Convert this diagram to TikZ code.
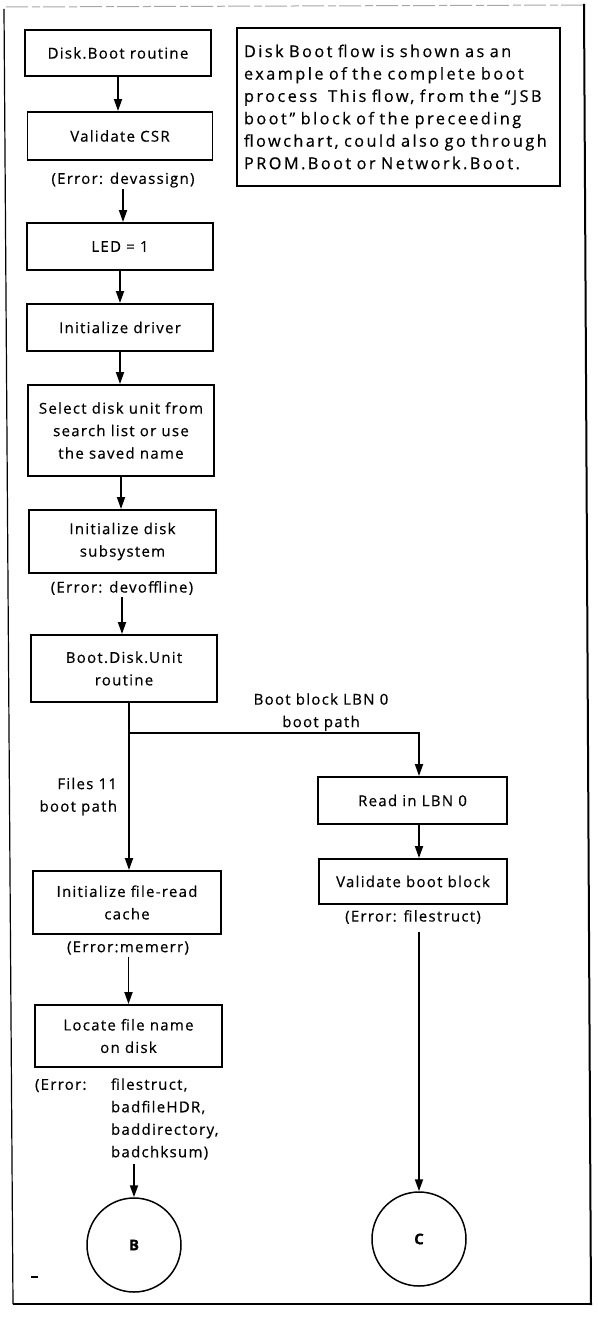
\documentclass[tikz,border=0pt]{standalone}
\usepackage{fontspec}
\setmainfont{Open Sans}[LetterSpace=8.5, FakeBold=0.5]
\newfontfamily\notefont{Open Sans}[LetterSpace=15, FakeBold=0.5]
\usetikzlibrary{arrows.meta}

\begin{document}
\begin{tikzpicture}[x=1pt,y=-1pt,
  every node/.style={font=\fontsize{15}{22.5}\selectfont},
  box/.style={draw, line width=1.9pt, align=center, inner sep=0pt},
  lbl/.style={inner sep=0pt, outer sep=2pt, align=center},
  link/.style={line width=1.8pt},
  arr/.style={link, -{Triangle[length=12pt,width=8pt]}},
  conn/.style={draw, circle, line width=1.5pt, minimum size=94pt, inner sep=0pt,
    font=\fontsize{15}{16}\selectfont\bfseries},
]
\useasboundingbox (0,0) rectangle (597,1321);

% page frame
\draw[line width=1pt, gray!70, dash pattern=on 22pt off 4pt on 8pt off 3pt] (6,7) -- (584,5);
\draw[line width=1.2pt] (4,9) -- (13,1304);
\draw[line width=2pt] (584,4) -- (591,1305);
\draw[line width=2pt] (13,1304) -- (591,1304);
\draw[line width=1.2pt] (31,1277) -- (38,1277);

% note
\node[box, text width=309pt, inner xsep=7pt, minimum height=158pt, align=left,
      font=\notefont\fontsize{16.3}{22.4}\selectfont] (note) at (398.5,107)
  {Disk Boot flow is shown as an\\
   example of the complete boot\\
   process \ This flow, from the “JSB\\
   boot” block of the preceeding\\
   flowchart, could also go through\\
   PROM.Boot or Network.Boot.};

% main column
\node[box, minimum width=186pt, minimum height=46pt] (b1) at (118,53) {Disk.Boot routine};
\node[box, minimum width=185pt, minimum height=48pt] (b2) at (120,136) {Validate CSR};
\node[lbl] (e2) at (123,180) {(Error: devassign)};
\node[box, minimum width=186pt, minimum height=47pt] (b3) at (120,246.5) {LED = 1};
\node[box, minimum width=186pt, minimum height=47pt] (b4) at (120,327.5) {Initialize driver};
\node[box, minimum width=186pt, minimum height=91pt] (b5) at (121,430.5)
  {Select disk unit from\\search list or use\\the saved name};
\node[box, minimum width=187pt, minimum height=63pt] (b6) at (122.5,541.5) {Initialize disk\\subsystem};
\node[lbl] (e6) at (122,588) {(Error: devoffline)};
\node[box, minimum width=186pt, minimum height=67pt] (b7) at (124,668.5) {Boot.Disk.Unit\\routine};
\coordinate (split) at (129,733);

% path labels
\node[lbl, align=right, anchor=east] (pf) at (119,796.5) {Files 11\\boot path};
\node[lbl] (pb) at (321,712) {Boot block LBN 0\\boot path};

% boot block branch
\node[box, minimum width=189pt, minimum height=47pt] (r1) at (412.5,800.5) {Read in LBN 0};
\node[box, minimum width=188pt, minimum height=45pt] (r2) at (413,881.5) {Validate boot block};
\node[lbl] (er2) at (413,917) {(Error: filestruct)};
\node[conn] (C) at (419,1239) {C};

% Files-11 branch
\node[box, minimum width=188pt, minimum height=63pt] (f1) at (127,902.5) {Initialize file-read\\cache};
\node[lbl] (ef1) at (128,948) {(Error:memerr)};
\node[box, minimum width=187pt, minimum height=62pt] (f2) at (128.5,1036) {Locate file name\\on disk};
\node[lbl, anchor=west, outer sep=0pt] (ef2) at (35,1119)
  {\begin{tabular}{@{}l@{}l@{}}\makebox[76pt][l]{(Error:} & filestruct,\\ & badfileHDR,\\ & baddirectory,\\ & badchksum)\end{tabular}};
\node[conn] (B) at (134,1245) {B};

% connectors
\draw[arr] (b1.south) -- (b1.south |- b2.north);
\draw[arr] (e2.south) -- (e2.south |- b3.north);
\draw[arr] (b3.south) -- (b3.south |- b4.north);
\draw[arr] (b4.south) -- (b4.south |- b5.north);
\draw[arr] (b5.south) -- (b5.south |- b6.north);
\draw[arr] (e6.south) -- (e6.south |- b7.north);
\draw[arr] (b7.south -| split) -- (split |- f1.north);
\draw[arr] (split) -| (r1.north -| C);
\draw[arr] (r1.south -| C) -- (r2.north -| C);
\draw[arr, shorten <=6pt] (er2.south -| C) -- (C);
\draw[arr] (ef1.south -| f2) -- (f2.north);
\draw[arr] (ef2.south -| B) -- (B);
\end{tikzpicture}
\end{document}
